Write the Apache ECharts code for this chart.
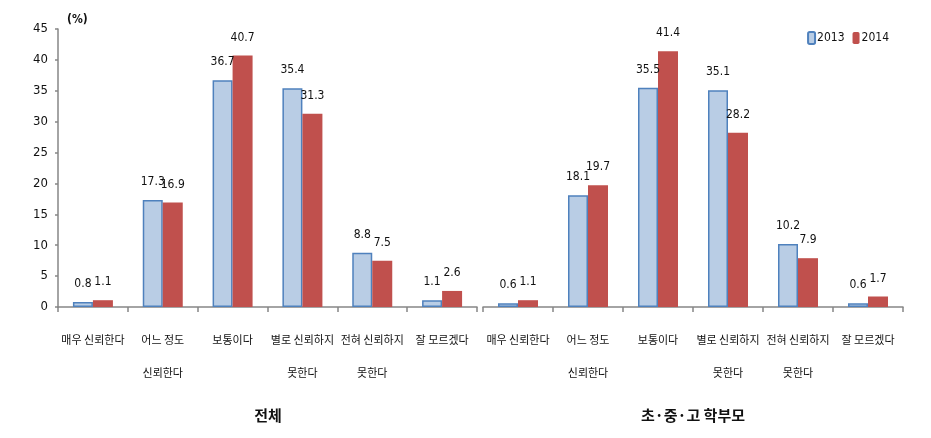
<!DOCTYPE html>
<html><head><meta charset="utf-8">
<script src="https://cdn.jsdelivr.net/npm/echarts@6/dist/echarts.min.js"></script>
<style>html,body{margin:0;padding:0;background:#fff}#c{width:931px;height:438px}</style>
</head><body><div id="c"></div>
<script>
const categories = ['매우 신뢰한다', '어느 정도\n신뢰한다', '보통이다', '별로 신뢰하지\n못한다', '전혀 신뢰하지\n못한다', '잘 모르겠다'];
const seriesNames = ['2013', '2014'];
const total2013 = [0.8, 17.3, 36.7, 35.4, 8.8, 1.1];
const total2014 = [1.1, 16.9, 40.7, 31.3, 7.5, 2.6];
const parents2013 = [0.6, 18.1, 35.5, 35.1, 10.2, 0.6];
const parents2014 = [1.1, 19.7, 41.4, 28.2, 7.9, 1.7];
const panelTitles = ['전체', '초·중·고 학부모'];
const yTicks = { min: 0, max: 45, interval: 5 };

const numFont = "'DejaVu Sans Condensed', 'Liberation Sans', sans-serif";
const krFont = "'Noto Sans CJK KR', sans-serif";
const axisGray = '#868686';

function xAxis(gridIndex) {
  return {
    type: 'category', gridIndex, data: categories,
    axisLine: { lineStyle: { color: axisGray, width: 1.5 } },
    axisTick: { show: true, length: 5, lineStyle: { color: axisGray, width: 1.5 }, alignWithLabel: false },
    axisLabel: { interval: 0, margin: 16, fontSize: 11, lineHeight: 33, color: '#111', fontFamily: krFont }
  };
}
function yAxis(gridIndex, show) {
  return {
    type: 'value', gridIndex, min: yTicks.min, max: yTicks.max, interval: yTicks.interval,
    splitLine: { show: false },
    axisLine: { show: show, lineStyle: { color: axisGray, width: 1.5 } },
    axisTick: { show: show, length: 3, lineStyle: { color: axisGray, width: 1.5 } },
    axisLabel: { show: show, margin: 10, fontSize: 13, color: '#111', fontFamily: numFont }
  };
}
function bar(name, data, idx) {
  const blue = name === '2013';
  return {
    name, type: 'bar', xAxisIndex: idx, yAxisIndex: idx, data,
    barWidth: 20, barGap: '0%',
    itemStyle: blue ? { color: '#B9CDE5', borderColor: '#4F81BD', borderWidth: 1.5 } : { color: '#C0504D' },
    label: { show: true, position: 'top', distance: 12, fontSize: 12, color: '#111', fontFamily: numFont },
    labelLayout: { moveOverlap: 'shiftX' },
    emphasis: { disabled: true }
  };
}

const chart = echarts.init(document.getElementById('c'));
chart.setOption({
  animation: false,
  grid: [
    { left: 58, right: 454, top: 29, bottom: 131 },
    { left: 483, right: 28, top: 29, bottom: 131 }
  ],
  legend: {
    data: seriesNames, right: 37, top: 26, itemWidth: 7, itemHeight: 12, itemGap: 8,
    textStyle: { fontSize: 12, color: '#111', fontFamily: numFont, padding: [0, 0, 0, -3] }
  },
  xAxis: [xAxis(0), xAxis(1)],
  yAxis: [yAxis(0, true), yAxis(1, false)],
  series: [
    bar(seriesNames[0], total2013, 0), bar(seriesNames[1], total2014, 0),
    bar(seriesNames[0], parents2013, 1), bar(seriesNames[1], parents2014, 1)
  ],
  graphic: [
    { type: 'text', x: 67, y: 20, style: { text: '(%)', font: "bold 12px " + numFont, fill: '#111', verticalAlign: 'middle' } },
    { type: 'text', x: 268, y: 415, style: { text: panelTitles[0], font: "bold 15px " + krFont, fill: '#111', align: 'center', verticalAlign: 'middle' } },
    { type: 'text', x: 693, y: 415, style: { text: panelTitles[1], font: "bold 15px " + krFont, fill: '#111', align: 'center', verticalAlign: 'middle' } }
  ]
});
</script></body></html>
